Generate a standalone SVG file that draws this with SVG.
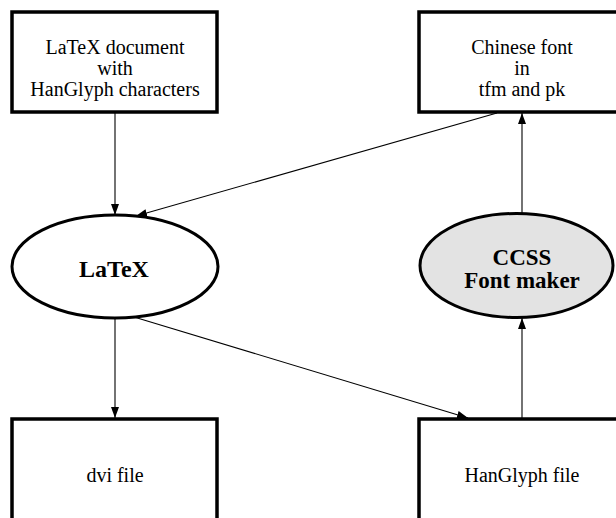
<svg xmlns="http://www.w3.org/2000/svg" width="616" height="518" viewBox="0 0 616 518">
<style>
.box{fill:#fff;stroke:#000;stroke-width:3.5}
.ell{fill:#fff;stroke:#000;stroke-width:3}
.gray{fill:#e3e3e3}
.t{font-family:"Liberation Serif","Times New Roman",serif;font-size:20px;text-anchor:middle;fill:#000}
.b{font-weight:bold;font-size:23px}
.edge{fill:none;stroke:#000;stroke-width:1.1;marker-end:url(#ah)}
</style>
<defs>
<marker id="ah" markerUnits="userSpaceOnUse" markerWidth="11" markerHeight="8" refX="11" refY="4" orient="auto">
<path d="M0,0 L11,4 L0,8 z" fill="#000"/>
</marker>
</defs>
<rect width="616" height="518" fill="#fff"/>
<g id="edges">
<line class="edge" x1="115" y1="113" x2="115" y2="215"/>
<line class="edge" x1="497" y1="113" x2="136" y2="216"/>
<line class="edge" x1="115" y1="318" x2="115" y2="418"/>
<line class="edge" x1="134" y1="317" x2="468" y2="418"/>
<line class="edge" x1="522" y1="418" x2="522" y2="318"/>
<line class="edge" x1="522" y1="213" x2="522" y2="113"/>
</g>
<g id="latexdoc">
<rect class="box" x="12" y="12" width="205" height="100"/>
<text class="t" x="115" y="54">LaTeX document</text>
<text class="t" x="115" y="75">with</text>
<text class="t" x="115" y="96">HanGlyph characters</text>
</g>
<g id="chinesefont">
<rect class="box" x="419" y="12" width="205" height="100"/>
<text class="t" x="522" y="54">Chinese font</text>
<text class="t" x="522" y="75">in</text>
<text class="t" x="522" y="96">tfm and pk</text>
</g>
<g id="latex">
<ellipse class="ell" cx="115" cy="266.5" rx="103" ry="51.5"/>
<text class="t b" x="114" y="277" style="font-size:24px">LaTeX</text>
</g>
<g id="ccss">
<ellipse class="ell gray" cx="516.5" cy="265.5" rx="96.5" ry="52"/>
<text class="t b" x="522" y="265">CCSS</text>
<text class="t b" x="522" y="288">Font maker</text>
</g>
<g id="dvi">
<rect class="box" x="12" y="419" width="205" height="110"/>
<text class="t" x="115" y="482">dvi file</text>
</g>
<g id="hanglyph">
<rect class="box" x="419" y="419" width="205" height="110"/>
<text class="t" x="522" y="482">HanGlyph file</text>
</g>
</svg>
